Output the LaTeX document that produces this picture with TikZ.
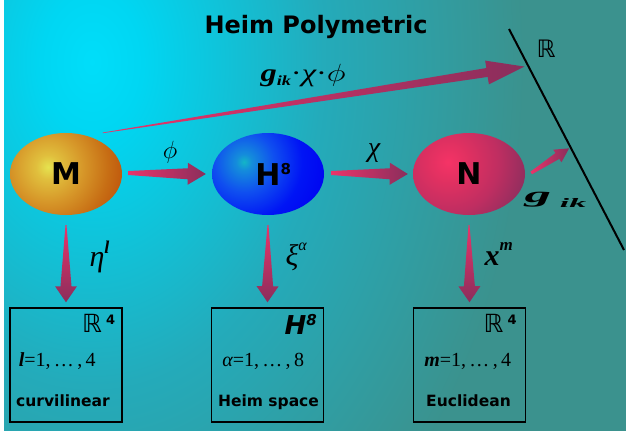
\documentclass[tikz,border=0pt]{standalone}
\usepackage{fontspec}
\setmainfont{DejaVu Sans}
\newfontfamily\tms{Liberation Serif}
\usetikzlibrary{shapes.geometric,calc}

\definecolor{arrA}{RGB}{234,52,106}
\definecolor{arrB}{RGB}{138,46,92}

\pgfdeclareradialshading{bgshade}{\pgfpoint{0bp}{0bp}}{%
  rgb(0bp)=(0,0.87,0.98); rgb(50bp)=(0.0,0.84,0.95); rgb(230bp)=(0.14,0.67,0.73);
  rgb(430bp)=(0.23,0.573,0.557); rgb(900bp)=(0.23,0.573,0.557)}
\pgfdeclareradialshading{Mshade}{\pgfpoint{0bp}{0bp}}{%
  rgb(0bp)=(0.90,0.89,0.31); rgb(12bp)=(0.88,0.75,0.24); rgb(35bp)=(0.84,0.59,0.16);
  rgb(60bp)=(0.78,0.43,0.08); rgb(82bp)=(0.74,0.31,0.04); rgb(140bp)=(0.74,0.31,0.04)}
\pgfdeclareradialshading{Hshade}{\pgfpoint{0bp}{0bp}}{%
  rgb(0bp)=(0.08,0.71,0.78); rgb(8bp)=(0.08,0.55,0.86); rgb(30bp)=(0.06,0.31,0.94);
  rgb(58bp)=(0,0.08,0.96); rgb(90bp)=(0,0,0.94); rgb(140bp)=(0,0,0.94)}
\pgfdeclareradialshading{Nshade}{\pgfpoint{0bp}{0bp}}{%
  rgb(0bp)=(0.96,0.20,0.40); rgb(20bp)=(0.88,0.19,0.38); rgb(50bp)=(0.75,0.18,0.38);
  rgb(82bp)=(0.55,0.18,0.37); rgb(140bp)=(0.55,0.18,0.37)}

% tapered arrow: #1 style, #2 start, #3 end, #4 tail half width, #5 shaft half width, #6 head half width, #7 head length
\newcommand\taperarrow[7]{%
  \coordinate (hb) at ($(#3)!#7!(#2)$);
  \path[#1] ($(#2)!#4!90:(#3)$) -- ($(hb)!#5!90:(#3)$) -- ($(hb)!#6!90:(#3)$) -- (#3)
    -- ($(hb)!#6!-90:(#3)$) -- ($(hb)!#5!-90:(#3)$) -- ($(#2)!#4!-90:(#3)$) -- cycle;
}
\newcommand\gr[1]{{\tms\itshape #1}}
\newcommand\bi[1]{{\tms\bfseries\itshape #1}}

\begin{document}
\begin{tikzpicture}[x=1pt,y=-1pt,
  ball/.style={ellipse, minimum width=112pt, minimum height=82pt, inner sep=0pt,
    font=\bfseries\fontsize{30}{34}\selectfont},
  glow/.style={inner sep=0pt, outer sep=0pt},
  panel/.style={draw=black, line width=1.5pt, minimum width=112pt, minimum height=114pt, inner sep=0pt},
  harrow/.style={left color=arrA, right color=arrB},
  varrow/.style={top color=arrA, bottom color=arrB},
  caption/.style={anchor=base, font=\bfseries\fontsize{15.5}{18}\selectfont},
  idx/.style={anchor=base west, font=\tms\fontsize{20}{22}\selectfont},
  sup/.style={anchor=base east, font=\fontsize{25}{28}\selectfont}]
\useasboundingbox (0,0) rectangle (626,437);
\fill[white] (0,0) rectangle (626,437);
\begin{scope}
  \clip (4,0) rectangle (626,430);
  \begin{scope}[shift={(92,62)}, yscale=1.4]
    \node (bgglow) [glow, transform shape] at (0,0) {\pgfuseshading{bgshade}};
  \end{scope}
\end{scope}

% title
\node (title) [anchor=base, font=\bfseries\fontsize{24}{28}\selectfont] at (316,33) {Heim Polymetric};

% spaces
\node (M) [ball, path picture={\node (Mglow) [glow] at ($(path picture bounding box.center)+(-18,-7)$) {\pgfuseshading{Mshade}};}] at (66,174) {M};
\node (H) [ball, path picture={\node (Hglow) [glow] at ($(path picture bounding box.center)+(-24,-12)$) {\pgfuseshading{Hshade}};}] at (268,174) {H\rlap{\raisebox{11pt}{\fontsize{15}{16}\selectfont 8}}};
\node (N) [ball, path picture={\node (Nglow) [glow] at ($(path picture bounding box.center)+(-21,-12)$) {\pgfuseshading{Nshade}};}] at (469,174) {N};

% the R line
\coordinate (Rtop) at (509,29);
\coordinate (Rbot) at (624,250);
\draw[line width=2pt] (Rtop) -- (Rbot);
\node (Rlab) [anchor=base west, font=\fontsize{24}{26}\selectfont] at (533,57) {ℝ};

% boxes
\node (B1) [panel] at (66,365) {};
\node (B2) [panel] at (267.5,365) {};
\node (B3) [panel] at (469.5,365) {};

% arrow end points
\coordinate (bigS) at ($(M.north east)+(-3,-12)$);
\coordinate (bigE) at ($(Rtop)!0.17!(Rbot)+(-4,0)$);
\coordinate (phiS) at ($(M.east)+(6,-1)$);
\coordinate (phiE) at ($(H.west)+(-6,0)$);
\coordinate (chiS) at ($(H.east)+(7,-1)$);
\coordinate (chiE) at ($(N.west)+(-5,0)$);
\coordinate (gS) at ($(N.east)+(6,-1)$);
\coordinate (gE) at ($(Rtop)!0.54!(Rbot)+(-2,0)$);
\coordinate (v1S) at ($(M.south)+(0,10)$);
\coordinate (v1E) at ($(B1.north)+(0,-5)$);
\coordinate (v2S) at ($(H.south)+(0,10)$);
\coordinate (v2E) at ($(B2.north)+(0,-5)$);
\coordinate (v3S) at ($(N.south)+(0,10)$);
\coordinate (v3E) at ($(B3.north)+(0,-5)$);

% arrows
\taperarrow{harrow}{bigS}{bigE}{0.3pt}{4.5pt}{12pt}{38pt}
\taperarrow{harrow}{phiS}{phiE}{2pt}{5.5pt}{11pt}{18pt}
\taperarrow{harrow}{chiS}{chiE}{2pt}{5.5pt}{11pt}{18pt}
\taperarrow{harrow}{gS}{gE}{1.5pt}{3.5pt}{7.5pt}{14pt}
\taperarrow{varrow}{v1S}{v1E}{0.5pt}{5.5pt}{11pt}{16pt}
\taperarrow{varrow}{v2S}{v2E}{0.5pt}{5.5pt}{11pt}{16pt}
\taperarrow{varrow}{v3S}{v3E}{0.5pt}{5.5pt}{11pt}{16pt}

% arrow labels
\node (prodL) [anchor=base west, font=\fontsize{25}{28}\selectfont] at (257,81)
  {\scalebox{1.3}[1]{\bi{g}\raisebox{-4pt}{\bi{\fontsize{14}{16}\selectfont ik}}{\tms ·}\gr{χ}{\tms ·}\fontsize{24.88}{28}\selectfont$\phi$}};
\node (phiL) [anchor=base, font=\fontsize{24.88}{28}\selectfont] at (170,158) {$\phi$};
\node (chiL) [anchor=base, font=\fontsize{28}{30}\selectfont] at (374,156) {\gr{χ}};
\node (gL) [anchor=base west] at (521,202)
  {\scalebox{2.4}[1]{\bi{\fontsize{22}{24}\selectfont g}}\hspace{9pt}\raisebox{-5pt}{\scalebox{2.6}[1]{\bi{\fontsize{13}{15}\selectfont ik}}}};
\node (etaL) [anchor=base west, font=\fontsize{30}{32}\selectfont] at (86,266)
  {\gr{η}\raisebox{13pt}{\bi{\fontsize{18}{20}\selectfont l}}};
\node (xiL) [anchor=base west, font=\fontsize{30}{32}\selectfont] at (282,265)
  {\gr{ξ}\raisebox{15pt}{\gr{\fontsize{16}{18}\selectfont α}}};
\node (xL) [anchor=base west, font=\fontsize{30}{34}\selectfont] at (481,265)
  {\bi{x}\raisebox{15pt}{\bi{\fontsize{17}{19}\selectfont m}}};

% box contents
\node (B1s) [sup] at ($(B1.north east)+(-4,25)$) {ℝ\,\raisebox{8pt}{\bfseries\fontsize{13}{15}\selectfont 4}};
\node (B2s) [sup, font=\bfseries\itshape\fontsize{26}{30}\selectfont] at ($(B2.north east)+(-4,27)$) {H\raisebox{9pt}{\fontsize{15}{17}\selectfont 8}};
\node (B3s) [sup] at ($(B3.north east)+(-6,25)$) {ℝ\,\raisebox{8pt}{\bfseries\fontsize{13}{15}\selectfont 4}};
\node (B1i) [idx] at ($(B1.north west)+(6,59)$) {{\bfseries\itshape l}=1,\,…\,,\,4};
\node (B2i) [idx] at ($(B2.north west)+(8,59)$) {{\itshape α}=1,\,…\,,\,8};
\node (B3i) [idx] at ($(B3.north west)+(8,59)$) {{\bfseries\itshape m}=1,\,…\,,\,4};
\node (B1c) [caption] at ($(B1.north)+(-3,99)$) {curvilinear};
\node (B2c) [caption] at ($(B2.north)+(1,99)$) {Heim space};
\node (B3c) [caption] at ($(B3.north)+(-1,99)$) {Euclidean};
\end{tikzpicture}
\end{document}
